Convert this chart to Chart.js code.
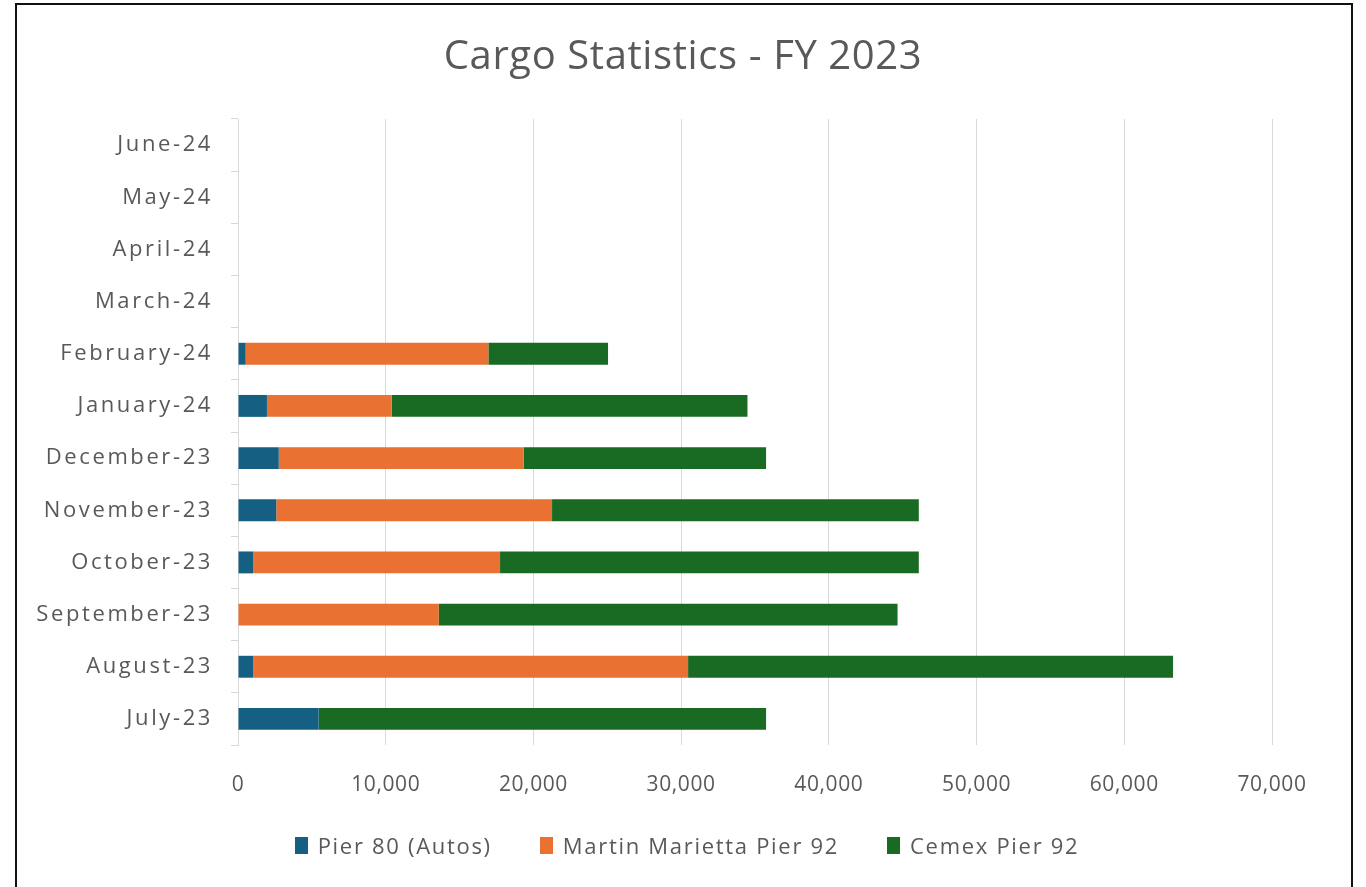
<!DOCTYPE html>
<html>
<head>
<meta charset="utf-8">
<title>Cargo Statistics - FY 2023</title>
<script src="https://cdn.jsdelivr.net/npm/chart.js@4.4.1/dist/chart.umd.min.js"></script>
<style>
  html, body { margin: 0; padding: 0; background: #fff; overflow: hidden; }
  #wrap { position: relative; width: 1366px; height: 887px; }
  #frame { position: absolute; left: 15px; top: 3px; width: 1338px; height: 900px; border: 2px solid #111; box-sizing: border-box; }
  #chartBox { position: absolute; left: 0; top: 0; width: 1366px; height: 887px; }
  #legend { position: absolute; left: 4px; width: 1366px; top: 830px; display: flex; justify-content: center; gap: 48px;
            font-family: "Open Sans", sans-serif; font-size: 22px; color: #595959; letter-spacing: 1.7px; }
  #legend .item { display: flex; align-items: center; }
  #legend .box { width: 13px; height: 17px; margin-right: 10px; }
</style>
</head>
<body>
<div id="wrap">
  <div id="frame"></div>
  <div id="chartBox"><canvas id="myChart"></canvas></div>
  <div id="legend"></div>
</div>
<script>
"use strict";

// months, bottom to top
var months = ["July-23", "August-23", "September-23", "October-23", "November-23", "December-23",
              "January-24", "February-24", "March-24", "April-24", "May-24", "June-24"];
var pier80 = [5460, 1020, 0, 1020, 2590, 2760, 1960, 520, null, null, null, null];
var martinMarietta = [0, 29450, 13590, 16720, 18670, 16580, 8450, 16430, null, null, null, null];
var cemex = [30290, 32830, 31060, 28350, 24830, 16410, 24080, 8100, null, null, null, null];
var seriesNames = ["Pier 80 (Autos)", "Martin Marietta Pier 92", "Cemex Pier 92"];
var seriesColors = ["#156082", "#E97132", "#196B24"];

var textColor = "#595959";
var fontFamily = "'Open Sans', sans-serif";

// canvas letterSpacing: small for title / value axis, wider for the month labels (drawn after bars)
var spacingPlugin = {
    id: "spacing",
    beforeLayout: function (chart) { chart.ctx.letterSpacing = "0.6px"; },
    beforeDraw: function (chart) { chart.ctx.letterSpacing = "0.6px"; },
    afterDatasetsDraw: function (chart) { chart.ctx.letterSpacing = "2.6px"; },
    afterDraw: function (chart) { chart.ctx.letterSpacing = "0.6px"; }
};

var ctx = document.getElementById("myChart");
var myChart = new Chart(ctx, {
    type: 'bar',
    data: {
        labels: months,
        datasets: [
            { label: seriesNames[0], data: pier80, backgroundColor: seriesColors[0] },
            { label: seriesNames[1], data: martinMarietta, backgroundColor: seriesColors[1] },
            { label: seriesNames[2], data: cemex, backgroundColor: seriesColors[2] }
        ]
    },
    options: {
        indexAxis: 'y',
        responsive: true,
        maintainAspectRatio: false,
        animation: { duration: 0 },
        categoryPercentage: 0.42,
        barPercentage: 1,
        layout: { padding: 0 },
        plugins: {
            legend: { display: false },
            tooltip: { enabled: false },
            title: {
                display: true,
                text: "Cargo Statistics - FY 2023",
                color: textColor,
                font: { family: fontFamily, size: 40, weight: 'normal' },
                padding: { top: 34, bottom: 37 }
            }
        },
        scales: {
            x: {
                stacked: true,
                min: 0,
                max: 70000,
                ticks: { stepSize: 10000, color: textColor, padding: 27, font: { family: fontFamily, size: 21 } },
                grid: { color: "#D9D9D9", drawTicks: false },
                border: { display: false },
                afterFit: function (s) { s.height = 142; }
            },
            y: {
                stacked: true,
                reverse: true,
                ticks: { color: textColor, padding: 18, z: 1, font: { family: fontFamily, size: 22 } },
                grid: { offset: true, drawOnChartArea: false, tickLength: 7, color: "#D9D9D9" },
                border: { color: "#D9D9D9" },
                afterFit: function (s) { s.width = 238; }
            },
            // empty right-hand axis, only keeps room on the right so the title stays centred
            yRight: {
                type: 'category',
                position: 'right',
                reverse: true,
                grid: { display: false },
                ticks: { display: false },
                border: { display: false },
                afterFit: function (s) { s.width = 94; }
            }
        }
    },
    plugins: [spacingPlugin]
});

// html legend
var legendDiv = document.getElementById("legend");
seriesNames.forEach(function (name, i) {
    var item = document.createElement("div");
    item.className = "item";
    var box = document.createElement("span");
    box.className = "box";
    box.style.background = seriesColors[i];
    var txt = document.createElement("span");
    txt.textContent = name;
    item.appendChild(box);
    item.appendChild(txt);
    legendDiv.appendChild(item);
});
</script>
</body>
</html>
